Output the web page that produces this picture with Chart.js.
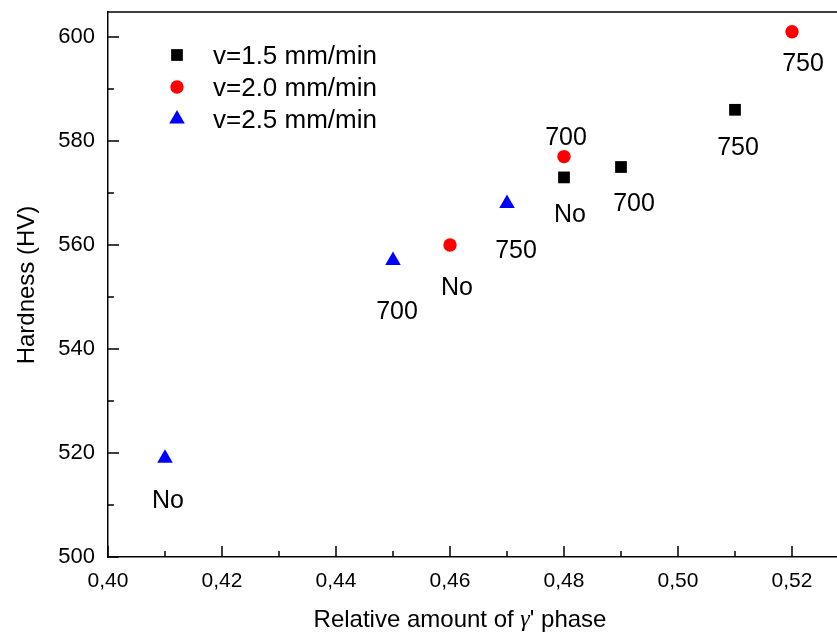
<!DOCTYPE html>
<html>
<head>
<meta charset="utf-8">
<script src="https://cdn.jsdelivr.net/npm/chart.js@4"></script>
<style>
  html, body { margin: 0; padding: 0; background: #fff; overflow: hidden; }
  #wrap { width: 837px; height: 635px; }
</style>
</head>
<body>
<div id="wrap"><canvas id="chart" width="837" height="635"></canvas></div>
<script>
// === Data ===
const seriesNames = ["v=1.5 mm/min", "v=2.0 mm/min", "v=2.5 mm/min"];

const v15X = [0.48, 0.49, 0.51];
const v15Y = [573, 575, 586];
const v15Labels = ["No", "700", "750"];

const v20X = [0.46, 0.48, 0.52];
const v20Y = [560, 577, 601];
const v20Labels = ["No", "700", "750"];

const v25X = [0.41, 0.45, 0.47];
const v25Y = [519, 557, 568];
const v25Labels = ["No", "700", "750"];

const xMajorTicks = [0.40, 0.42, 0.44, 0.46, 0.48, 0.50, 0.52];
const xMinorTicks = [0.41, 0.43, 0.45, 0.47, 0.49, 0.51];
const yMajorTicks = [500, 520, 540, 560, 580, 600];
const yMinorTicks = [510, 530, 550, 570, 590];

// label offsets in pixels (style only)
const v15Offsets = [[6, 38], [13, 37], [3, 38]];
const v20Offsets = [[7, 43], [2, -18], [11, 32]];
const v25Offsets = [[3, 43], [4, 52], [9, 48]];

const FONT = "'Liberation Sans', Arial, sans-serif";
const SERIF = "'Liberation Serif', 'Times New Roman', serif";

function toPoints(xs, ys) {
  return xs.map((x, i) => ({ x: x, y: ys[i] }));
}

// === Plugin: inward ticks, top frame line, point labels, legend ===
const decorPlugin = {
  id: "decor",
  afterDraw(chart) {
    const ctx = chart.ctx;
    const area = chart.chartArea;
    const xs = chart.scales.x;
    const ys = chart.scales.y;

    ctx.save();
    ctx.strokeStyle = "#000";
    ctx.lineWidth = 1.5;

    // top frame
    ctx.beginPath();
    ctx.moveTo(area.left, area.top);
    ctx.lineTo(area.right, area.top);
    ctx.stroke();

    // inward ticks
    ctx.beginPath();
    xMajorTicks.forEach((v) => {
      const px = xs.getPixelForValue(v);
      ctx.moveTo(px, area.bottom);
      ctx.lineTo(px, area.bottom - 11);
    });
    xMinorTicks.forEach((v) => {
      const px = xs.getPixelForValue(v);
      ctx.moveTo(px, area.bottom);
      ctx.lineTo(px, area.bottom - 6);
    });
    yMajorTicks.forEach((v) => {
      const py = ys.getPixelForValue(v);
      ctx.moveTo(area.left, py);
      ctx.lineTo(area.left + 11, py);
    });
    yMinorTicks.forEach((v) => {
      const py = ys.getPixelForValue(v);
      ctx.moveTo(area.left, py);
      ctx.lineTo(area.left + 6, py);
    });
    ctx.stroke();

    // point labels
    ctx.fillStyle = "#000";
    ctx.font = "25px " + FONT;
    ctx.textAlign = "center";
    ctx.textBaseline = "middle";
    chart.data.datasets.forEach((ds, di) => {
      const meta = chart.getDatasetMeta(di);
      meta.data.forEach((pt, i) => {
        const off = ds.labelOffsets[i];
        ctx.fillText(ds.pointLabels[i], pt.x + off[0], pt.y + off[1]);
      });
    });

    // legend
    ctx.font = "26px " + FONT;
    ctx.textAlign = "left";
    chart.data.datasets.forEach((ds, di) => {
      const cy = area.top + 43 + di * 32;
      const cx = area.left + 69;
      ctx.fillStyle = ds.backgroundColor;
      Chart.helpers.drawPoint(
        ctx,
        { pointStyle: ds.pointStyle, radius: ds.pointRadius, rotation: 0, borderWidth: 0 },
        cx,
        cy
      );
      ctx.fillStyle = "#000";
      ctx.fillText(ds.label, area.left + 105, cy + 2);
    });

    // x axis title (gamma in serif, like the original)
    const partA = "Relative amount of ";
    const partG = "\u03B3";
    const partB = "' phase";
    ctx.font = "24px " + FONT;
    const wA = ctx.measureText(partA).width;
    const wB = ctx.measureText(partB).width;
    ctx.font = "italic 24px " + SERIF;
    const wG = ctx.measureText(partG).width;
    let tx = 460 - (wA + wG + wB) / 2;
    const ty = 620;
    ctx.font = "24px " + FONT;
    ctx.fillText(partA, tx, ty);
    tx += wA;
    ctx.font = "italic 24px " + SERIF;
    ctx.fillText(partG, tx, ty);
    tx += wG;
    ctx.font = "24px " + FONT;
    ctx.fillText(partB, tx, ty);

    // y axis title
    ctx.textAlign = "center";
    ctx.translate(27, 285);
    ctx.rotate(-Math.PI / 2);
    ctx.fillText("Hardness (HV)", 0, 0);
    ctx.restore();
  },
};

// === Chart ===
new Chart(document.getElementById("chart"), {
  type: "scatter",
  data: {
    datasets: [
      {
        label: seriesNames[0],
        data: toPoints(v15X, v15Y),
        pointLabels: v15Labels,
        labelOffsets: v15Offsets,
        backgroundColor: "#000000",
        pointStyle: "rect",
        pointRadius: 8.3,
        borderWidth: 0,
      },
      {
        label: seriesNames[1],
        data: toPoints(v20X, v20Y),
        pointLabels: v20Labels,
        labelOffsets: v20Offsets,
        backgroundColor: "#ff0000",
        pointStyle: "circle",
        pointRadius: 6.7,
        borderWidth: 0,
      },
      {
        label: seriesNames[2],
        data: toPoints(v25X, v25Y),
        pointLabels: v25Labels,
        labelOffsets: v25Offsets,
        backgroundColor: "#0000ff",
        pointStyle: "triangle",
        pointRadius: 9,
        borderWidth: 0,
      },
    ],
  },
  options: {
    responsive: false,
    animation: false,
    devicePixelRatio: 1,
    layout: { autoPadding: false, padding: { top: 12, left: 0, right: 0, bottom: 0 } },
    plugins: {
      legend: { display: false },
      tooltip: { enabled: false },
    },
    scales: {
      x: {
        type: "linear",
        min: 0.40,
        max: 0.40 + 729 / 5700,
        afterBuildTicks: (scale) => {
          scale.ticks = xMajorTicks.map((v) => ({ value: v }));
        },
        afterFit: (scale) => {
          scale.height = 78;
          scale.paddingLeft = 0;
          scale.paddingRight = 0;
        },
        grid: { display: false, drawTicks: false },
        border: { display: true, color: "#000", width: 1.5 },
        ticks: {
          padding: 12,
          color: "#000",
          font: { family: FONT, size: 21 },
          maxRotation: 0,
          autoSkip: false,
          callback: (v) => Number(v).toFixed(2).replace(".", ","),
        },
      },
      y: {
        type: "linear",
        min: 500,
        max: 500 + 545 / 5.2,
        afterBuildTicks: (scale) => {
          scale.ticks = yMajorTicks.map((v) => ({ value: v }));
        },
        afterFit: (scale) => {
          scale.width = 108;
          scale.paddingTop = 0;
          scale.paddingBottom = 0;
        },
        grid: { display: false, drawTicks: false },
        border: { display: true, color: "#000", width: 1.5 },
        ticks: {
          padding: 13,
          color: "#000",
          font: { family: FONT, size: 22 },
          autoSkip: false,
          callback: (v) => String(v),
        },
      },
    },
  },
  plugins: [decorPlugin],
});
</script>
</body>
</html>
